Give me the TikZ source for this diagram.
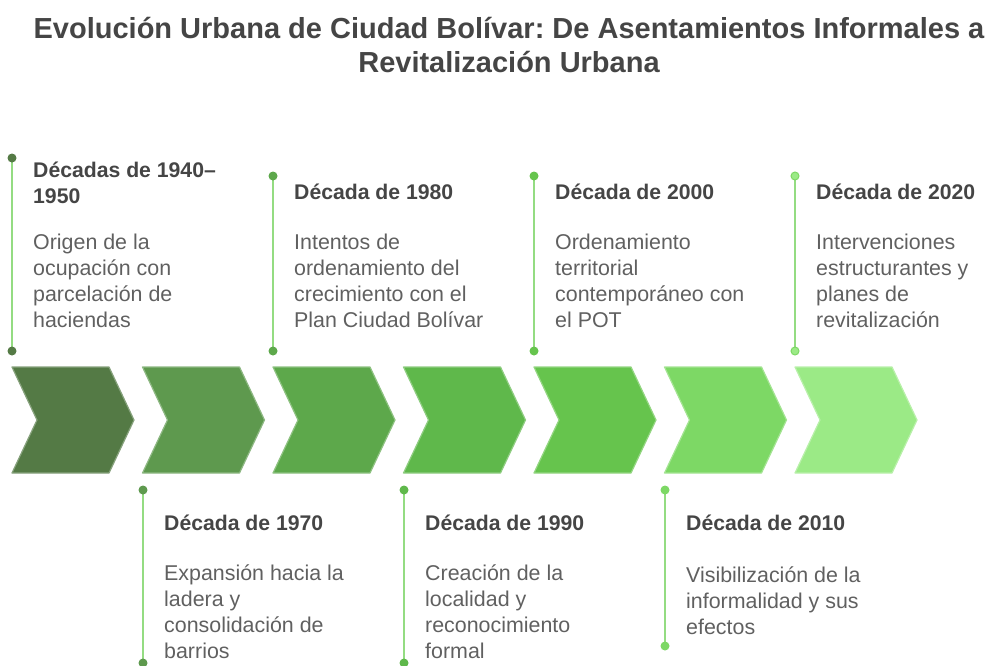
\documentclass[tikz,border=0pt]{standalone}
\usepackage{fontspec}
\setmainfont{Liberation Sans}
\frenchspacing
\definecolor{inkgray}{HTML}{454545}
\definecolor{bodygray}{HTML}{606060}
\definecolor{stemgreen}{HTML}{94DC82}
\definecolor{chevA}{HTML}{547A45}
\definecolor{chevB}{HTML}{5E994E}
\definecolor{chevC}{HTML}{5DA84B}
\definecolor{chevD}{HTML}{5FB84B}
\definecolor{chevE}{HTML}{66C44D}
\definecolor{chevF}{HTML}{7DD865}
\definecolor{chevG}{HTML}{9BEA86}
\begin{document}
\begin{tikzpicture}[x=1pt, y=-1pt,
    chevron/.style={line width=1.2pt, line join=round},
    stem/.style={stemgreen, line width=2.4pt},
    heading/.style={anchor=north west, inner sep=0pt, align=left, text=inkgray,
        font=\fontsize{21.2}{26}\selectfont\bfseries},
    body/.style={anchor=north west, inner sep=0pt, align=left, text=bodygray,
        font=\fontsize{21.4}{26}\selectfont},
    every node/.style={inner sep=0pt}
]
    \useasboundingbox (0,0) rectangle (987,665);

    % title
    \node[align=center, text=inkgray, font=\fontsize{29}{34}\selectfont\bfseries]
        (title) at (509,45) {Evolución Urbana de Ciudad Bolívar: De Asentamientos Informales a\\Revitalización Urbana};

    % chevrons
    \foreach \i/\c in {0/chevA,1/chevB,2/chevC,3/chevD,4/chevE,5/chevF,6/chevG} {
        \pgfmathsetmacro{\xo}{12+130.5*\i}
        \draw[chevron, fill=\c, draw=\c!70!white] (\xo,367) -- ++(97,0) -- ++(25,53)
            -- ++(-25,53) -- ++(-97,0) -- ++(25,-53) -- cycle;
    }

    % stems above
    \coordinate (s1a) at (12,158);  \coordinate (s1b) at (12,351);
    \coordinate (s3a) at (273,176); \coordinate (s3b) at (273,351);
    \coordinate (s5a) at (534,176); \coordinate (s5b) at (534,351);
    \coordinate (s7a) at (795,176); \coordinate (s7b) at (795,351);
    % stems below
    \coordinate (s2a) at (143,490); \coordinate (s2b) at (143,663);
    \coordinate (s4a) at (404,490); \coordinate (s4b) at (404,663);
    \coordinate (s6a) at (665,490); \coordinate (s6b) at (665,646);

    \foreach \s/\c in {1/chevA,2/chevB,3/chevC,4/chevD,5/chevE,6/chevF} {
        \draw[stem] (s\s a) -- (s\s b);
        \fill[\c] (s\s a) circle (4.5pt);
        \fill[\c] (s\s b) circle (4.5pt);
    }
    \draw[stem] (s7a) -- (s7b);
    \filldraw[fill=chevG, draw=chevF, line width=1pt] (s7a) circle (4pt);
    \filldraw[fill=chevG, draw=chevF, line width=1pt] (s7b) circle (4pt);

    % upper events
    \node[heading] (h1) at (33,162) {Décadas de 1940–\\1950};
    \node[body] (b1) at (33,233.5) {Origen de la\\ocupación con\\parcelación de\\haciendas};
    \node[heading] (h3) at (294,184) {Década de 1980};
    \node[body] (b3) at (294,233.5) {Intentos de\\ordenamiento del\\crecimiento con el\\Plan Ciudad Bolívar};
    \node[heading] (h5) at (555,184) {Década de 2000};
    \node[body] (b5) at (555,233.5) {Ordenamiento\\territorial\\contemporáneo con\\el POT};
    \node[heading] (h7) at (816,184) {Década de 2020};
    \node[body] (b7) at (816,233.5) {Intervenciones\\estructurantes y\\planes de\\revitalización};

    % lower events
    \node[heading] (h2) at (164,515) {Década de 1970};
    \node[body] (b2) at (164,565) {Expansión hacia la\\ladera y\\consolidación de\\barrios};
    \node[heading] (h4) at (425,515) {Década de 1990};
    \node[body] (b4) at (425,565) {Creación de la\\localidad y\\reconocimiento\\formal};
    \node[heading] (h6) at (686,515) {Década de 2010};
    \node[body] (b6) at (686,567) {Visibilización de la\\informalidad y sus\\efectos};
\end{tikzpicture}
\end{document}
